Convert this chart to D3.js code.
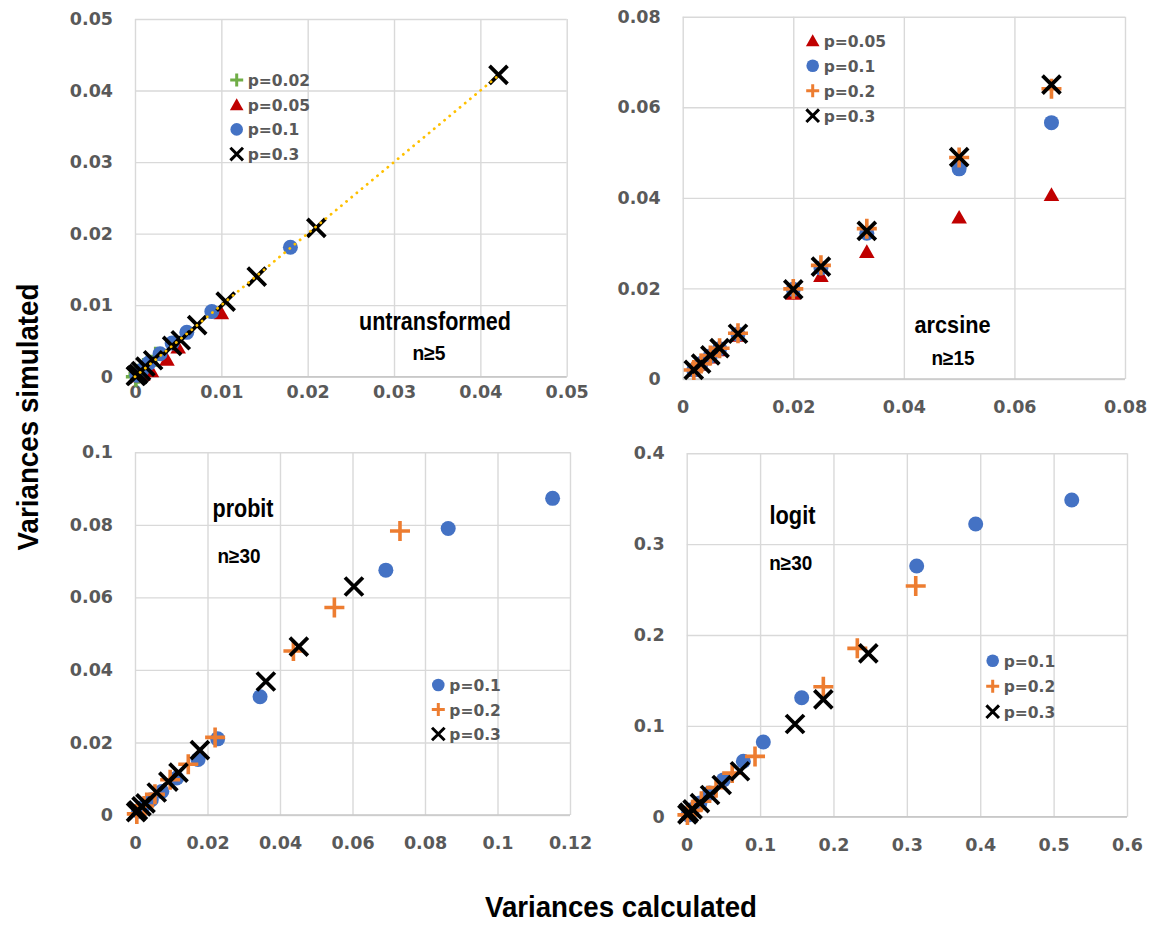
<!DOCTYPE html>
<html>
<head>
<meta charset="utf-8">
<script src="https://cdn.jsdelivr.net/npm/d3@7"></script>
<style>
  html, body { margin: 0; padding: 0; background: #fff; }
  svg { display: block; }
</style>
</head>
<body>
<svg id="chart" width="1152" height="927"></svg>
<script>
// ---- data (x = variance calculated, y = variance simulated) ----

// untransformed, n>=5
var untransTicks = [0, 0.01, 0.02, 0.03, 0.04, 0.05];
var untransP002 = [[0.0024, 0.0028], [0.001, 0.0012], [0.0004, 0.0004], [0.0001, 0.0]];
var untransP005 = [[0.0100, 0.0089], [0.0050, 0.0041], [0.0037, 0.0024], [0.0019, 0.0008], [0.0009, 0.0003], [0.0002, 0.0001]];
var untransP01 = [[0.0180, 0.0181], [0.0089, 0.0091], [0.0060, 0.0062], [0.0043, 0.0047], [0.0029, 0.0032], [0.0016, 0.0019], [0.0008, 0.0009], [0.0002, 0.0002]];
var untransP03 = [[0.0421, 0.0422], [0.0210, 0.0208], [0.0141, 0.0140], [0.0105, 0.0105], [0.0072, 0.0072], [0.0053, 0.0051], [0.0043, 0.0043],
  [0.0021, 0.0023], [0.0012, 0.0014], [0.0007, 0.0008], [0.0004, 0.0004], [0.0002, 0.0002], [0.0001, 0.0001]];
var untransTrend = [[0, 0], [0.0421, 0.0421]];

// arcsine, n>=15
var arcTicks = [0, 0.02, 0.04, 0.06, 0.08];
var arcP005 = [[0.002, 0.0019], [0.00333, 0.0032], [0.005, 0.0048], [0.00667, 0.0064], [0.01, 0.0096], [0.02, 0.0189], [0.025, 0.0228],
  [0.0333, 0.0281], [0.05, 0.0357], [0.0667, 0.0407]];
var arcP01 = [[0.002, 0.0020], [0.00333, 0.0034], [0.005, 0.0051], [0.00667, 0.0067], [0.01, 0.0099], [0.02, 0.0198], [0.025, 0.0245],
  [0.0333, 0.0322], [0.05, 0.0464], [0.0667, 0.0566]];
var arcP02 = [[0.002, 0.0020], [0.00333, 0.0034], [0.005, 0.0052], [0.00667, 0.0068], [0.01, 0.0101], [0.02, 0.0199], [0.025, 0.0251],
  [0.0333, 0.0332], [0.05, 0.0489], [0.0667, 0.0641]];
var arcP03 = [[0.002, 0.0020], [0.00333, 0.0034], [0.005, 0.0052], [0.00667, 0.0068], [0.01, 0.0100], [0.02, 0.0198], [0.025, 0.0248],
  [0.0333, 0.0327], [0.05, 0.0490], [0.0667, 0.0650]];

// probit, n>=30
var probitXTicks = [0, 0.02, 0.04, 0.06, 0.08, 0.1, 0.12];
var probitYTicks = [0, 0.02, 0.04, 0.06, 0.08, 0.1];
var probitP01 = [[0.1152, 0.0873], [0.0864, 0.0790], [0.0692, 0.0675], [0.0345, 0.0326], [0.0228, 0.0210], [0.0174, 0.0153],
  [0.0115, 0.0102], [0.0074, 0.0065], [0.0045, 0.0042], [0.0020, 0.0020], [0.0010, 0.0010]];
var probitP02 = [[0.0731, 0.0783], [0.0550, 0.0572], [0.0437, 0.0452], [0.0221, 0.0214], [0.0147, 0.0140], [0.0097, 0.0097],
  [0.0055, 0.0057], [0.0025, 0.0025], [0.0005, 0.0003]];
var probitP03 = [[0.0604, 0.0630], [0.0452, 0.0464], [0.0361, 0.0368], [0.0179, 0.0179], [0.0120, 0.0117], [0.0092, 0.0092],
  [0.0060, 0.0062], [0.0029, 0.0032], [0.0018, 0.0024], [0.0008, 0.0013], [0.0003, 0.0008]];

// logit, n>=30
var logitXTicks = [0, 0.1, 0.2, 0.3, 0.4, 0.5, 0.6];
var logitYTicks = [0, 0.1, 0.2, 0.3, 0.4];
var logitP01 = [[0.5247, 0.3486], [0.3938, 0.3222], [0.3134, 0.2760], [0.1567, 0.1310], [0.1044, 0.0822], [0.0772, 0.0610],
  [0.0500, 0.0405], [0.0310, 0.0260], [0.0180, 0.0150], [0.0080, 0.0080], [0.0020, 0.0020]];
var logitP02 = [[0.3121, 0.2540], [0.2325, 0.1853], [0.1862, 0.1431], [0.0931, 0.0664], [0.0620, 0.0480], [0.0400, 0.0320],
  [0.0200, 0.0170], [0.0080, 0.0070], [0.0010, 0.0020]];
var logitP03 = [[0.2475, 0.1798], [0.1862, 0.1292], [0.1476, 0.1020], [0.0726, 0.0500], [0.0477, 0.0349], [0.0318, 0.0239],
  [0.0180, 0.0150], [0.0080, 0.0080], [0.0030, 0.0045], [0.0010, 0.0025]];

// ---- styling ----
var colors = { p002: '#70AD47', p005: '#C00000', p01: '#4472C4', p02: '#ED7D31', p03: '#000000' };
var tickFont = '"DejaVu Sans", Verdana, sans-serif';
var labelFont = '"Liberation Sans", Arial, sans-serif';
var grey = '#595959';

var svg = d3.select('#chart');

// draw one marker of a given shape at (0,0), sized by s (half width)
function drawMarker(g, shape, color, s) {
  if (shape === 'circle') {
    g.append('circle').attr('r', s).attr('fill', color);
  } else if (shape === 'triangle') {
    g.append('path')
      .attr('d', 'M0,' + (-s * 0.95) + 'L' + s + ',' + (s * 0.8) + 'L' + (-s) + ',' + (s * 0.8) + 'Z')
      .attr('fill', color);
  } else if (shape === 'plus') {
    g.append('path')
      .attr('d', 'M' + (-s) + ',0H' + s + 'M0,' + (-s) + 'V' + s)
      .attr('stroke', color).attr('stroke-width', Math.max(3, s * 0.36)).attr('fill', 'none');
  } else if (shape === 'cross') {
    g.append('path')
      .attr('d', 'M' + (-s) + ',' + (-s) + 'L' + s + ',' + s + 'M' + s + ',' + (-s) + 'L' + (-s) + ',' + s)
      .attr('stroke', color).attr('stroke-width', Math.max(3, s * 0.42)).attr('fill', 'none');
  }
}

var markerSize = { circle: 7.5, triangle: 7.8, plus: 10, cross: 9 };
var legendSize = { circle: 6.3, triangle: 6.8, plus: 6.5, cross: 6.3 };

function drawPanel(cfg) {
  var x = d3.scaleLinear().domain(cfg.xDomain).range([cfg.left, cfg.right]);
  var y = d3.scaleLinear().domain(cfg.yDomain).range([cfg.bottom, cfg.top]);
  var g = svg.append('g');

  g.append('rect')
    .attr('x', cfg.left).attr('y', cfg.top)
    .attr('width', cfg.right - cfg.left).attr('height', cfg.bottom - cfg.top)
    .attr('fill', '#fff');

  var fmt = d3.format('~g');

  var yAxis = g.append('g')
    .attr('transform', 'translate(' + cfg.left + ',0)')
    .call(d3.axisLeft(y).tickValues(cfg.yTicks).tickFormat(fmt)
      .tickSize(-(cfg.right - cfg.left)).tickPadding(22));
  var xAxis = g.append('g')
    .attr('transform', 'translate(0,' + cfg.bottom + ')')
    .call(d3.axisBottom(x).tickValues(cfg.xTicks).tickFormat(fmt)
      .tickSize(-(cfg.bottom - cfg.top)).tickPadding(cfg.xPad));

  [xAxis, yAxis].forEach(function(ax) {
    ax.select('.domain').remove();
    ax.selectAll('.tick line').attr('stroke', '#d9d9d9').attr('stroke-width', 1.4);
    ax.selectAll('.tick text')
      .attr('fill', grey)
      .style('font-family', tickFont)
      .style('font-weight', 'bold')
      .style('font-size', '17.5px');
  });

  // the x axis line along the bottom is a bit darker than the grid
  g.append('line')
    .attr('x1', cfg.left).attr('x2', cfg.right)
    .attr('y1', cfg.bottom).attr('y2', cfg.bottom)
    .attr('stroke', '#c8c8c8').attr('stroke-width', 1.6);

  // series drawn in order, so later ones sit on top
  cfg.series.forEach(function(s) {
    g.append('g').selectAll('g')
      .data(s.values)
      .enter().append('g')
      .attr('transform', function(d) { return 'translate(' + x(d[0]) + ',' + y(d[1]) + ')'; })
      .each(function() {
        drawMarker(d3.select(this), s.shape, s.color, markerSize[s.shape]);
      });
  });

  // after the series so the trendline dots show over the markers
  if (cfg.trend) {
    g.append('path')
      .attr('d', d3.line().x(function(d) { return x(d[0]); }).y(function(d) { return y(d[1]); })(cfg.trend))
      .attr('stroke', '#FFC000').attr('stroke-width', 2.8)
      .attr('stroke-linecap', 'round').attr('stroke-dasharray', '0.1 6.6')
      .attr('fill', 'none');
  }

  // legend
  var leg = g.append('g');
  cfg.legend.forEach(function(s, i) {
    var cy = cfg.legendY + i * cfg.legendStep;
    var m = leg.append('g').attr('transform', 'translate(' + cfg.legendX + ',' + cy + ')');
    drawMarker(m, s.shape, s.color, legendSize[s.shape]);
    leg.append('text')
      .attr('x', cfg.legendX + 11).attr('y', cy + 6)
      .attr('fill', grey)
      .style('font-family', tickFont).style('font-weight', 'bold').style('font-size', '15.5px')
      .text(s.name);
  });

  // panel annotations
  cfg.notes.forEach(function(n) {
    g.append('text')
      .attr('x', n.x).attr('y', n.y)
      .attr('text-anchor', 'middle')
      .attr('textLength', n.w).attr('lengthAdjust', 'spacingAndGlyphs')
      .style('font-family', labelFont).style('font-weight', 'bold')
      .style('font-size', n.size + 'px')
      .attr('fill', '#000')
      .text(n.text);
  });
}

var sP002 = { name: 'p=0.02', shape: 'plus', color: colors.p002 };
var sP005 = { name: 'p=0.05', shape: 'triangle', color: colors.p005 };
var sP01 = { name: 'p=0.1', shape: 'circle', color: colors.p01 };
var sP02 = { name: 'p=0.2', shape: 'plus', color: colors.p02 };
var sP03 = { name: 'p=0.3', shape: 'cross', color: colors.p03 };

function withValues(s, values) {
  return { name: s.name, shape: s.shape, color: s.color, values: values };
}

drawPanel({
  left: 135, right: 566.7, top: 19, bottom: 376.7,
  xDomain: [0, 0.05], yDomain: [0, 0.05], xTicks: untransTicks, yTicks: untransTicks, xPad: 9,
  trend: untransTrend,
  series: [withValues(sP002, untransP002), withValues(sP005, untransP005), withValues(sP01, untransP01), withValues(sP03, untransP03)],
  legend: [sP002, sP005, sP01, sP03], legendX: 236.7, legendY: 80, legendStep: 24.7,
  notes: [
    { text: 'untransformed', x: 435, y: 330, size: 25, w: 152 },
    { text: 'n≥5', x: 429, y: 360, size: 20, w: 33 }
  ]
});

drawPanel({
  left: 682.7, right: 1125, top: 16.7, bottom: 379,
  xDomain: [0, 0.08], yDomain: [0, 0.08], xTicks: arcTicks, yTicks: arcTicks, xPad: 22,
  series: [withValues(sP005, arcP005), withValues(sP01, arcP01), withValues(sP02, arcP02), withValues(sP03, arcP03)],
  legend: [sP005, sP01, sP02, sP03], legendX: 812.7, legendY: 40.7, legendStep: 25,
  notes: [
    { text: 'arcsine', x: 952.5, y: 333, size: 24, w: 76 },
    { text: 'n≥15', x: 953, y: 365, size: 20, w: 43 }
  ]
});

drawPanel({
  left: 135, right: 570, top: 452.3, bottom: 815,
  xDomain: [0, 0.12], yDomain: [0, 0.1], xTicks: probitXTicks, yTicks: probitYTicks, xPad: 22,
  series: [withValues(sP01, probitP01), withValues(sP02, probitP02), withValues(sP03, probitP03)],
  legend: [sP01, sP02, sP03], legendX: 438.3, legendY: 685, legendStep: 24.5,
  notes: [
    { text: 'probit', x: 243, y: 516.7, size: 25, w: 61 },
    { text: 'n≥30', x: 239, y: 563, size: 20, w: 43 }
  ]
});

drawPanel({
  left: 686.7, right: 1127, top: 453.3, bottom: 816.7,
  xDomain: [0, 0.6], yDomain: [0, 0.4], xTicks: logitXTicks, yTicks: logitYTicks, xPad: 22,
  series: [withValues(sP01, logitP01), withValues(sP02, logitP02), withValues(sP03, logitP03)],
  legend: [sP01, sP02, sP03], legendX: 992.7, legendY: 660.7, legendStep: 25.5,
  notes: [
    { text: 'logit', x: 792.5, y: 524, size: 26, w: 46 },
    { text: 'n≥30', x: 790.7, y: 570, size: 20, w: 43 }
  ]
});

// shared axis titles
svg.append('text')
  .attr('transform', 'translate(38,417) rotate(-90)')
  .attr('text-anchor', 'middle')
  .attr('textLength', 267).attr('lengthAdjust', 'spacingAndGlyphs')
  .style('font-family', labelFont).style('font-weight', 'bold').style('font-size', '30px')
  .text('Variances simulated');

svg.append('text')
  .attr('x', 621).attr('y', 916.7)
  .attr('text-anchor', 'middle')
  .attr('textLength', 272).attr('lengthAdjust', 'spacingAndGlyphs')
  .style('font-family', labelFont).style('font-weight', 'bold').style('font-size', '30px')
  .text('Variances calculated');
</script>
</body>
</html>
